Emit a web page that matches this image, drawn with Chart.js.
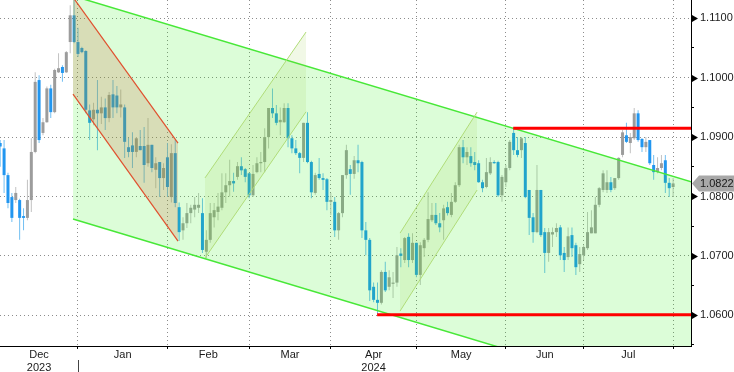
<!DOCTYPE html>
<html><head><meta charset="utf-8">
<script src="https://cdn.jsdelivr.net/npm/chart.js@4/dist/chart.umd.min.js"></script>
<style>html,body{margin:0;padding:0;background:#fff}#wrap{width:734px;height:372px;position:relative}</style>
</head><body><div id="wrap"><canvas id="c" width="734" height="372"></canvas></div>
<script>
// trading-day index of the first candle (Dec 1 2023 = -1, Dec 4 = 0, ... Jul 31 2024 = 172)
const firstIndex = -1;
const openP = [
1.0890,1.0881,1.0836,1.0799,1.0794,1.0794,1.0767,1.0764,1.0794,1.0875,
1.0996,1.0907,1.0925,1.0982,1.0942,1.1009,1.1018,1.1009,1.1060,1.1105,
1.1060,1.1050,1.1045,1.0945,1.0930,1.0946,1.0940,1.0950,1.0932,1.0972,
1.0970,1.0950,1.0950,1.0883,1.0886,1.0875,1.0885,1.0885,1.0856,1.0887,
1.0845,1.0858,1.0831,1.0866,1.0799,1.0873,1.0782,1.0743,1.0755,1.0772,
1.0778,1.0781,1.0772,1.0707,1.0727,1.0765,1.0774,1.0781,1.0807,1.0819,
1.0826,1.0833,1.0851,1.0846,1.0839,1.0802,1.0841,1.0856,1.0858,1.0900,
1.0949,1.0940,1.0925,1.0925,1.0949,1.0898,1.0881,1.0873,1.0865,1.0924,
1.0858,1.0806,1.0838,1.0831,1.0829,1.0791,1.0791,1.0743,1.0772,1.0836,
1.0846,1.0838,1.0861,1.0858,1.0743,1.0727,1.0648,1.0626,1.0621,1.0673,
1.0648,1.0653,1.0655,1.0704,1.0693,1.0732,1.0693,1.0722,1.0668,1.0713,
1.0727,1.0760,1.0769,1.0755,1.0760,1.0782,1.0769,1.0791,1.0819,1.0883,
1.0866,1.0868,1.0858,1.0856,1.0824,1.0816,1.0839,1.0858,1.0858,1.0802,
1.0824,1.0848,1.0907,1.0878,1.0878,1.0890,1.0811,1.0765,1.0740,1.0811,
1.0740,1.0705,1.0736,1.0740,1.0748,1.0705,1.0698,1.0735,1.0718,1.0686,
1.0701,1.0713,1.0738,1.0738,1.0786,1.0811,1.0811,1.0824,1.0814,1.0831,
1.0870,1.0903,1.0890,1.0898,1.0940,1.0897,1.0883,1.0895,1.0853,1.0841,
1.0848,1.0861,1.0823,1.0816];
const highP = [
1.0895,1.0895,1.0840,1.0806,1.0816,1.0796,1.0780,1.0828,1.0898,1.1009,
1.1004,1.0932,1.0985,1.0988,1.1015,1.1041,1.1021,1.1045,1.1122,1.1139,
1.1084,1.1052,1.1046,1.0955,1.0958,1.0996,1.0968,1.0965,1.0976,1.0996,
1.0986,1.0980,1.0955,1.0899,1.0908,1.0900,1.0912,1.0917,1.0932,1.0887,
1.0866,1.0858,1.0856,1.0890,1.0888,1.0895,1.0790,1.0765,1.0789,1.0786,
1.0799,1.0806,1.0797,1.0743,1.0789,1.0789,1.0806,1.0839,1.0839,1.0862,
1.0840,1.0858,1.0866,1.0848,1.0840,1.0853,1.0866,1.0875,1.0915,1.0949,
1.0982,1.0954,1.0950,1.0957,1.0957,1.0903,1.0895,1.0875,1.0924,1.0942,
1.0860,1.0840,1.0865,1.0839,1.0831,1.0806,1.0799,1.0774,1.0836,1.0887,
1.0853,1.0868,1.0887,1.0860,1.0757,1.0730,1.0655,1.0655,1.0676,1.0690,
1.0676,1.0673,1.0715,1.0713,1.0732,1.0738,1.0738,1.0722,1.0723,1.0730,
1.0807,1.0789,1.0789,1.0772,1.0786,1.0791,1.0806,1.0824,1.0887,1.0895,
1.0883,1.0883,1.0875,1.0861,1.0828,1.0865,1.0866,1.0861,1.0860,1.0836,
1.0853,1.0895,1.0917,1.0900,1.0900,1.0900,1.0811,1.0772,1.0853,1.0811,
1.0747,1.0747,1.0748,1.0755,1.0752,1.0715,1.0748,1.0748,1.0722,1.0715,
1.0718,1.0774,1.0777,1.0799,1.0816,1.0844,1.0844,1.0833,1.0831,1.0866,
1.0912,1.0924,1.0907,1.0949,1.0945,1.0898,1.0900,1.0895,1.0870,1.0866,
1.0870,1.0870,1.0831,1.0831];
const lowP = [
1.0850,1.0806,1.0780,1.0757,1.0789,1.0727,1.0743,1.0760,1.0774,1.0873,
1.0890,1.0903,1.0924,1.0932,1.0940,1.1008,1.0993,1.1008,1.1041,1.1058,
1.1035,1.1041,1.0940,1.0895,1.0920,1.0878,1.0922,1.0912,1.0925,1.0932,
1.0940,1.0933,1.0865,1.0866,1.0848,1.0866,1.0878,1.0823,1.0850,1.0841,
1.0814,1.0799,1.0811,1.0799,1.0790,1.0782,1.0725,1.0727,1.0747,1.0755,
1.0765,1.0772,1.0705,1.0696,1.0722,1.0748,1.0760,1.0777,1.0789,1.0800,
1.0808,1.0828,1.0836,1.0824,1.0797,1.0799,1.0839,1.0841,1.0841,1.0881,
1.0932,1.0920,1.0903,1.0924,1.0883,1.0873,1.0870,1.0839,1.0858,1.0856,
1.0797,1.0803,1.0828,1.0811,1.0777,1.0769,1.0732,1.0727,1.0765,1.0830,
1.0803,1.0830,1.0841,1.0730,1.0701,1.0624,1.0622,1.0602,1.0618,1.0639,
1.0642,1.0629,1.0648,1.0681,1.0688,1.0681,1.0688,1.0664,1.0651,1.0698,
1.0723,1.0757,1.0752,1.0740,1.0727,1.0768,1.0765,1.0789,1.0816,1.0856,
1.0853,1.0850,1.0844,1.0823,1.0807,1.0814,1.0836,1.0855,1.0799,1.0791,
1.0816,1.0844,1.0870,1.0866,1.0865,1.0797,1.0735,1.0722,1.0738,1.0732,
1.0671,1.0690,1.0715,1.0732,1.0693,1.0673,1.0693,1.0698,1.0668,1.0673,
1.0693,1.0710,1.0738,1.0738,1.0782,1.0807,1.0806,1.0807,1.0811,1.0828,
1.0866,1.0890,1.0873,1.0895,1.0892,1.0875,1.0875,1.0853,1.0828,1.0839,
1.0844,1.0806,1.0799,1.0799];
const closeP = [
1.0884,1.0836,1.0789,1.0764,1.0806,1.0764,1.0764,1.0794,1.0875,1.0993,
1.0895,1.0925,1.0982,1.0942,1.1013,1.1016,1.1008,1.1043,1.1105,1.1060,
1.1040,1.1043,1.0946,1.0924,1.0946,1.0940,1.0950,1.0932,1.0971,1.0950,
1.0950,1.0955,1.0892,1.0875,1.0875,1.0898,1.0878,1.0853,1.0887,1.0848,
1.0856,1.0831,1.0848,1.0816,1.0873,1.0789,1.0740,1.0755,1.0772,1.0781,
1.0786,1.0786,1.0710,1.0727,1.0772,1.0777,1.0783,1.0807,1.0819,1.0826,
1.0822,1.0851,1.0844,1.0833,1.0802,1.0838,1.0856,1.0858,1.0900,1.0949,
1.0940,1.0924,1.0929,1.0949,1.0898,1.0881,1.0873,1.0865,1.0924,1.0858,
1.0807,1.0836,1.0831,1.0828,1.0791,1.0794,1.0743,1.0772,1.0836,1.0878,
1.0838,1.0861,1.0856,1.0743,1.0727,1.0642,1.0626,1.0621,1.0673,1.0642,
1.0664,1.0655,1.0701,1.0700,1.0730,1.0693,1.0722,1.0668,1.0718,1.0727,
1.0762,1.0769,1.0755,1.0748,1.0780,1.0772,1.0791,1.0819,1.0883,1.0866,
1.0875,1.0856,1.0853,1.0824,1.0814,1.0841,1.0858,1.0856,1.0802,1.0833,
1.0848,1.0892,1.0878,1.0870,1.0898,1.0799,1.0764,1.0740,1.0811,1.0735,
1.0705,1.0740,1.0740,1.0747,1.0701,1.0693,1.0733,1.0713,1.0681,1.0703,
1.0715,1.0740,1.0748,1.0786,1.0814,1.0839,1.0824,1.0811,1.0831,1.0865,
1.0908,1.0892,1.0900,1.0940,1.0895,1.0883,1.0892,1.0856,1.0841,1.0848,
1.0856,1.0823,1.0814,1.0822];

// axis labels
const monthLabels = [['Dec','2023'],'Jan','Feb','Mar',['Apr','2024'],'May','Jun','Jul'];
const monthLabelAt = [9, 30.5, 52.5, 73.5, 95, 117.5, 139, 160.5];
const monthEnds = [19, 42, 63, 84, 106, 129, 149, 172];
const yearSplitAt = 19;
const priceTicks = [1.055,1.060,1.065,1.070,1.075,1.080,1.085,1.090,1.095,1.100,1.105,1.110];
const majorPriceTicks = [1.06,1.07,1.08,1.09,1.10,1.11];
const lastPrice = 1.0822;
const xRange = [-1.05, 176.6];
const yRange = [1.05483, 1.11308];

// drawn studies, in (trading-day index, price)
const mainChannelUpper = [[17.72, 1.11377], [176.9, 1.08242]];
const mainChannelLower = [[17.72, 1.07620], [176.9, 1.04485]];
const redChannelUpper = [[17.72, 1.11354], [44.72, 1.08899]];
const redChannelLower = [[17.72, 1.09724], [44.72, 1.07249]];
const febChannelUpper = [[51.66, 1.08313], [77.63, 1.10769]];
const febChannelLower = [[51.66, 1.06965], [77.63, 1.09426]];
const aprChannelUpper = [[101.8, 1.07384], [121.6, 1.09421]];
const aprChannelLower = [[101.8, 1.06071], [121.6, 1.08108]];
const resistanceLine = [[130.9, 1.0915], [177, 1.0915]];
const supportLine = [[95.9, 1.0601], [177, 1.0601]];

const FONT = 'Liberation Sans, Arial, sans-serif';
const idx = openP.map((_, i) => i + firstIndex);
const up = openP.map((o, i) => closeP[i] >= o);
const bodyData = idx.map((x, i) => ({x, y: [openP[i], closeP[i]]}));
const wickData = idx.map((x, i) => ({x, y: [lowP[i], highP[i]]}));
const pts = a => a.map(([x, y]) => ({x, y}));
const isMajor = v => majorPriceTicks.some(m => Math.abs(m - v) < 1e-7);
const isEnd = v => monthEnds.includes(v);
const noPad = s => { s.paddingTop = 0; s.paddingBottom = 0; s.paddingLeft = 0; s.paddingRight = 0; };

const lineDs = (data, color, width, order, extra) => Object.assign({
  type: 'line', data: pts(data), borderColor: color, borderWidth: width,
  pointRadius: 0, pointHoverRadius: 0, fill: false, order, tension: 0
}, extra || {});

const decor = {
  id: 'decor',
  afterDraw(chart) {
    const {ctx, chartArea: a, scales: {x, y}} = chart;
    ctx.save();
    ctx.fillStyle = '#000';
    majorPriceTicks.forEach(v => {
      const py = Math.round(y.getPixelForValue(v)) + 0.5;
      ctx.beginPath();
      ctx.moveTo(a.right + 1, py - 3.5);
      ctx.lineTo(a.right + 7, py);
      ctx.lineTo(a.right + 1, py + 3.5);
      ctx.closePath();
      ctx.fill();
    });
    const sx = Math.round(x.getPixelForValue(yearSplitAt)) + 0.5;
    ctx.strokeStyle = '#444';
    ctx.lineWidth = 1;
    ctx.beginPath();
    ctx.moveTo(sx, a.bottom + 14);
    ctx.lineTo(sx, chart.height);
    ctx.stroke();
    const ly = y.getPixelForValue(lastPrice);
    ctx.fillStyle = '#a8a8a8';
    ctx.beginPath();
    ctx.moveTo(a.right + 1, ly);
    ctx.lineTo(a.right + 8, ly - 8);
    ctx.lineTo(chart.width, ly - 8);
    ctx.lineTo(chart.width, ly + 8);
    ctx.lineTo(a.right + 8, ly + 8);
    ctx.closePath();
    ctx.fill();
    ctx.fillStyle = '#1a1a1a';
    ctx.font = '11px ' + FONT;
    ctx.textBaseline = 'middle';
    ctx.textAlign = 'left';
    ctx.fillText(lastPrice.toFixed(4), a.right + 9, ly + 0.5);
    ctx.restore();
  }
};

new Chart(document.getElementById('c'), {
  type: 'bar',
  data: {
    datasets: [
      {type: 'bar', data: wickData, backgroundColor: up.map(u => u ? '#c2c2c2' : '#72bff2'),
       barThickness: 1, grouped: false, order: 21, borderWidth: 0, inflateAmount: 0},
      {type: 'bar', data: bodyData, backgroundColor: up.map(u => u ? '#9c9c9c' : '#2196f0'),
       barThickness: 3, grouped: false, order: 20, borderWidth: 0, inflateAmount: 0, minBarLength: 1},
      lineDs(mainChannelUpper, '#48e838', 1.5, 10),
      lineDs(mainChannelLower, '#48e838', 1.5, 10, {fill: 2, backgroundColor: 'rgba(40,245,10,0.16)'}),
      lineDs(redChannelUpper, '#e0502e', 1.2, 8),
      lineDs(redChannelLower, '#e0502e', 1.2, 8, {fill: 4, backgroundColor: 'rgba(205,110,70,0.22)'}),
      lineDs(febChannelUpper, '#b0dc78', 1, 6),
      lineDs(febChannelLower, '#b0dc78', 1, 6, {fill: 6, backgroundColor: 'rgba(150,200,60,0.13)'}),
      lineDs(aprChannelUpper, '#b0dc78', 1, 6),
      lineDs(aprChannelLower, '#b0dc78', 1, 6, {fill: 8, backgroundColor: 'rgba(150,200,60,0.13)'}),
      lineDs(resistanceLine, '#ff0000', 3, 1),
      lineDs(supportLine, '#ff0000', 3, 1)
    ]
  },
  options: {
    responsive: false,
    animation: false,
    devicePixelRatio: 1,
    layout: {padding: 0},
    plugins: {legend: {display: false}, tooltip: {enabled: false}},
    scales: {
      x: {
        type: 'linear', min: xRange[0], max: xRange[1], offset: false,
        afterBuildTicks: s => {
          s.ticks = monthEnds.concat(monthLabelAt).sort((a, b) => a - b).map(v => ({value: v}));
        },
        afterFit: s => { s.height = 26; noPad(s); },
        ticks: {
          autoSkip: false, maxRotation: 0, minRotation: 0, padding: -1, color: '#1a1a1a',
          font: {family: FONT, size: 11, lineHeight: 1.2},
          callback: v => { const k = monthLabelAt.indexOf(v); return k >= 0 ? monthLabels[k] : ''; }
        },
        grid: {
          offset: false, lineWidth: 1, tickLength: 3,
          color: c => (c.tick && isEnd(c.tick.value)) ? '#8c8c8c' : 'rgba(0,0,0,0)',
          tickColor: c => (c.tick && isEnd(c.tick.value)) ? '#000' : 'rgba(0,0,0,0)'
        },
        border: {display: true, color: '#000', width: 1, dash: [1, 3]}
      },
      y: {
        type: 'linear', position: 'right', min: yRange[0], max: yRange[1],
        afterBuildTicks: s => { s.ticks = priceTicks.map(v => ({value: v})); },
        afterFit: s => { s.width = 43; noPad(s); },
        ticks: {
          autoSkip: false, padding: 6, color: '#1a1a1a',
          font: {family: FONT, size: 11},
          callback: v => isMajor(v) ? v.toFixed(4) : ''
        },
        grid: {
          lineWidth: 1, tickLength: 3,
          color: c => (c.tick && isMajor(c.tick.value)) ? '#8c8c8c' : 'rgba(0,0,0,0)',
          tickColor: '#000'
        },
        border: {display: true, color: '#000', width: 1, dash: [1, 3]}
      }
    }
  },
  plugins: [decor]
});
</script>
</body></html>
